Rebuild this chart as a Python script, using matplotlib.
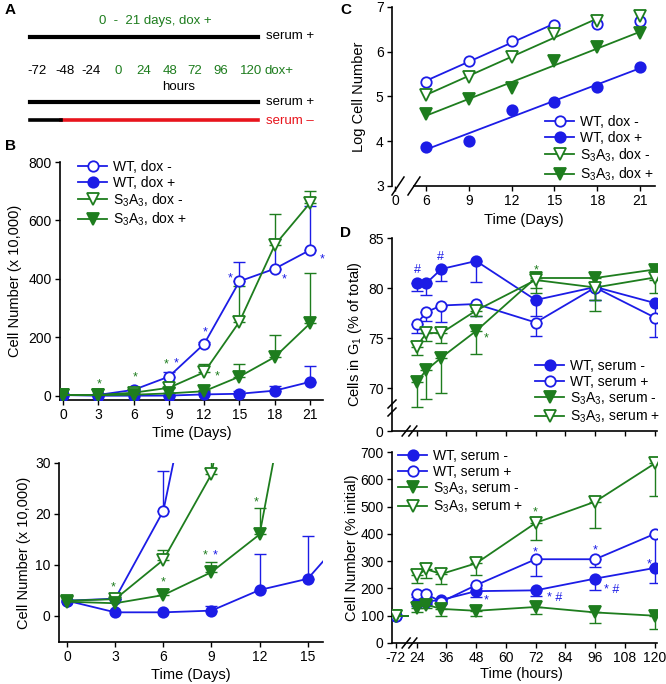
import numpy as np
import matplotlib
matplotlib.use('Agg')
import matplotlib.pyplot as plt
from matplotlib.lines import Line2D
from matplotlib.transforms import IdentityTransform

plt.rcParams['font.family'] = ['Liberation Sans', 'DejaVu Sans']
plt.rcParams['mathtext.default'] = 'regular'
plt.rcParams['font.size'] = 10

W, H = 666, 684
DPI = 100
BLUE = '#1c1ce6'
GREEN = '#1e7d1e'
RED = '#e8141c'

# ---------------- data ----------------
# Panel A (schematic)
a_hours = ['-72', '-48', '-24', '0', '24', '48', '72', '96', '120']
a_hour_green = [False, False, False, True, True, True, True, True, True]

# Panel B: cell number (x 10,000) vs days
b_days = [0, 3, 6, 9, 12, 15, 18, 21]
b_wt_dm = [3.0, 3.4, 20.6, 66, 178, 392, 435, 499]
b_wt_dm_err = [0, 0.7, 7.8, 17, 8, 66, 102, 151]
b_wt_dp = [3.0, 0.72, 0.72, 1.05, 5.1, 7.3, 18, 48]
b_wt_dp_err = [0, 0, 0, 1.0, 7.1, 8.4, 17, 54]
b_s3_dm = [3.0, 3.3, 11.0, 27.8, 81, 254, 516, 660]
b_s3_dm_err = [0, 0.8, 1.9, 4, 28, 122, 106, 42]
b_s3_dp = [2.8, 2.5, 4.1, 8.6, 16.0, 66, 133, 248]
b_s3_dp_err = [0, 0, 1.2, 1.9, 5.2, 44, 75, 173]
b_labels = ['WT, dox -', 'WT, dox +', 'S$_3$A$_3$, dox -', 'S$_3$A$_3$, dox +']
b_top_marks = [(3.1, 52, 'g', '*'), (6.1, 75, 'g', '*'), (8.75, 121, 'g', '*'),
               (9.6, 123, 'b', '*'), (12.1, 230, 'b', '*'), (13.1, 81, 'g', '*'),
               (14.25, 414, 'b', '*'), (18.8, 411, 'b', '*'), (22.0, 480, 'b', '*')]
b_bot_marks = [(2.88, 6.4, 'g', '*'), (6.0, 7.3, 'g', '*'), (8.6, 12.6, 'g', '*'),
               (9.23, 12.6, 'b', '*'), (11.76, 23.1, 'g', '*')]

# Panel C: log cell number
c_days = [6, 9, 12, 15, 18, 21]
c_wt_dm = [5.32, 5.80, 6.25, 6.59, 6.63, 6.69]
c_wt_dp = [3.88, 4.01, 4.70, 4.87, 5.21, 5.67]
c_s3_dm = [5.03, 5.44, 5.89, 6.39, 6.69, 6.80]
c_s3_dp = [4.60, 4.94, 5.20, 5.80, 6.10, 6.41]
c_fit_n = [4, 6, 5, 6]   # number of points used for each regression line

# Panel D: hours after serum change
d_hours = [24, 28, 34, 48, 72, 96, 120]
d_labels = ['WT, serum -', 'WT, serum +', 'S$_3$A$_3$, serum -', 'S$_3$A$_3$, serum +']
# % cells in G1
g1_wt_sm = [80.5, 80.5, 81.9, 82.7, 78.8, 80.1, 78.5]
g1_wt_sm_err = [0.8, 1.2, 1.2, 2.1, 1.6, 1.3, 1.4]
g1_wt_sp = [76.4, 77.6, 78.25, 78.4, 76.55, 80.05, 77.05]
g1_wt_sp_err = [0.9, 0.9, 1.65, 1.15, 1.3, 1.25, 1.95]
g1_s3_sm = [70.6, 71.8, 73.05, 75.7, 81.0, 81.0, 81.85]
g1_s3_sm_err = [2.45, 2.9, 3.5, 2.3, 1.0, 3.3, 1.0]
g1_s3_sp = [74.15, 75.5, 75.5, 77.75, 80.8, 80.05, 81.05]
g1_s3_sp_err = [0.85, 0.75, 1.0, 0.55, 1.3, 1.2, 1.5]
g1_marks = [(24.3, 81.9, 'b', '#'), (33.8, 83.2, 'b', '#'), (72.1, 82.2, 'g', '*'),
            (52.2, 75.4, 'g', '*')]
# cell number (% initial)
n_initial = 100
n_wt_sm = [148, 152, 158, 190, 193, 236, 275]
n_wt_sm_err = [12, 10, 8, 20, 22, 40, 54]
n_wt_sp = [178, 178, 151, 212, 307, 307, 400]
n_wt_sp_err = [8, 8, 8, 10, 60, 30, 120]
n_s3_sm = [128, 140, 125, 118, 132, 112, 100]
n_s3_sm_err = [15, 12, 27, 20, 25, 38, 50]
n_s3_sp = [248, 270, 253, 292, 440, 518, 658]
n_s3_sp_err = [27, 30, 38, 42, 62, 97, 118]
n_marks = [(72, 493, 'g', '*'), (72, 347, 'b', '*'), (96, 353, 'b', '*'),
           (117.9, 304, 'b', '*'), (52, 172, 'b', '*'), (79.5, 180, 'b', '* #'),
           (102.5, 210, 'b', '* #')]

# ---------------- figure ----------------
fig = plt.figure(figsize=(W / DPI, H / DPI), dpi=DPI)
COL = {'b': BLUE, 'g': GREEN}


def fx(x):
    return x / W


def fy(y):
    return 1 - y / H


def style(ax):
    for s in ['top', 'right']:
        ax.spines[s].set_visible(False)
    for s in ['left', 'bottom']:
        ax.spines[s].set_linewidth(1.2)
    ax.tick_params(direction='out', length=3.5, width=1, labelsize=10, pad=2.5)


def series(ax, x, y, err, color, marker, filled, up=True, ms=7.5):
    x = np.asarray(x, float)
    y = np.asarray(y, float)
    e = np.asarray(err, float)
    m = e > 0
    if m.any():
        z = np.zeros(m.sum())
        yerr = [z, e[m]] if up else [e[m], z]
        ax.errorbar(x[m], y[m], yerr=yerr, fmt='none', ecolor=color, elinewidth=1.0,
                    capsize=4.5, capthick=1.0, zorder=2)
    ln, = ax.plot(x, y, color=color, lw=1.3, marker=marker, ms=ms,
                  mfc=color if filled else 'white', mec=color, mew=1.3, zorder=3)
    return ln


def marks(ax, items, fs=9):
    for x, y, c, s in items:
        off = -5.0 if s.startswith('*') else -3.0
        ax.annotate(s, (x, y), xytext=(0, off), textcoords='offset points',
                    ha='center', va='baseline', color=COL[c], fontsize=fs)


def slash(ax, x, y, dx=4, dy=7, lw=1.1):
    p = ax.transData.transform((x, y))
    fig.add_artist(Line2D([p[0] - dx, p[0] + dx], [p[1] - dy, p[1] + dy],
                          transform=IdentityTransform(), color='k', lw=lw))


def legend(ax, handles, labels, left, top):
    ax.legend(handles, labels, loc='upper left', bbox_to_anchor=(fx(left), fy(top)),
              bbox_transform=fig.transFigure, frameon=False, borderaxespad=0,
              borderpad=0, handlelength=2.1, handletextpad=0.45, labelspacing=0.12,
              fontsize=10)


# ---------- Panel A ----------
fig.text(fx(5), fy(10), 'A', fontsize=11, fontweight='bold', ha='left', va='center')
fig.text(fx(155), fy(21), '0  -  21 days, dox +', color=GREEN, fontsize=9.5,
         ha='center', va='center')
fig.add_artist(Line2D([fx(30), fx(258)], [fy(37), fy(37)], color='k', lw=3,
                      transform=fig.transFigure))
fig.text(fx(266), fy(36), 'serum +', fontsize=9.5, ha='left', va='center')
a_pos = [37, 65, 91, 118, 144, 170, 195, 221, 251]
for lab, g, px in zip(a_hours, a_hour_green, a_pos):
    fig.text(fx(px), fy(71), lab, color=GREEN if g else 'k', fontsize=9.5,
             ha='center', va='center')
fig.text(fx(279), fy(71), 'dox+', color=GREEN, fontsize=9.5, ha='center', va='center')
fig.text(fx(179), fy(87), 'hours', fontsize=9.5, ha='center', va='center')
fig.add_artist(Line2D([fx(30), fx(258)], [fy(102), fy(102)], color='k', lw=3,
                      transform=fig.transFigure))
fig.text(fx(266), fy(102), 'serum +', fontsize=9.5, ha='left', va='center')
fig.add_artist(Line2D([fx(61), fx(258)], [fy(120), fy(120)], color=RED, lw=2.6,
                      transform=fig.transFigure))
fig.add_artist(Line2D([fx(30), fx(61)], [fy(120), fy(120)], color='k', lw=2.6,
                      transform=fig.transFigure))
fig.text(fx(266), fy(121), 'serum \u2013', color=RED, fontsize=9.5, ha='left', va='center')

# ---------- Panel B ----------
fig.text(fx(5), fy(146), 'B', fontsize=11, fontweight='bold', ha='left', va='center')
axB1 = fig.add_axes([fx(60), fy(400), 263 / W, 238 / H])
axB2 = fig.add_axes([fx(59), fy(642), 264 / W, 179 / H])
for ax in (axB1, axB2):
    style(ax)
    h1 = series(ax, b_days, b_wt_dm, b_wt_dm_err, BLUE, 'o', False)
    h2 = series(ax, b_days, b_wt_dp, b_wt_dp_err, BLUE, 'o', True)
    h3 = series(ax, b_days, b_s3_dm, b_s3_dm_err, GREEN, 'v', False, ms=8)
    h4 = series(ax, b_days, b_s3_dp, b_s3_dp_err, GREEN, 'v', True, ms=8)
    ax.set_ylabel('Cell Number (x 10,000)', fontsize=10.5)
    ax.set_xlabel('Time (Days)', fontsize=10.5)
axB1.set_xlim(-0.26, 22.1)
axB1.set_ylim(-14, 800)
axB1.set_xticks(b_days)
axB1.set_yticks([0, 200, 400, 600, 800])
axB1.yaxis.set_label_coords(-0.146, 0.5)
axB1.xaxis.set_label_coords(0.5, -0.109)
legend(axB1, [h1, h2, h3, h4], b_labels, 78, 160)
marks(axB1, b_top_marks)
axB2.set_xlim(-0.5, 15.95)
axB2.set_ylim(-5.1, 30)
axB2.set_xticks([0, 3, 6, 9, 12, 15])
axB2.set_yticks([0, 10, 20, 30])
axB2.yaxis.set_label_coords(-0.106, 0.5)
axB2.xaxis.set_label_coords(0.5, -0.145)
marks(axB2, b_bot_marks)

# ---------- Panel C ----------
fig.text(fx(340), fy(10), 'C', fontsize=11, fontweight='bold', ha='left', va='center')
axC = fig.add_axes([fx(392), fy(186), 263 / W, 179 / H])
style(axC)
C_ZERO = 3.83
axC.set_xlim(3.62, 22.05)
axC.set_ylim(3, 7)
hc = []
for ys, col, filled, mk, n in zip([c_wt_dm, c_wt_dp, c_s3_dm, c_s3_dp],
                                  [BLUE, BLUE, GREEN, GREEN],
                                  [False, True, False, True],
                                  ['o', 'o', 'v', 'v'], c_fit_n):
    xs = np.array(c_days[:n], float)
    coef = np.polyfit(xs, np.array(ys[:n], float), 1)
    axC.plot([xs[0], xs[-1]], np.polyval(coef, [xs[0], xs[-1]]), color=col, lw=1.3,
             zorder=2)
    axC.plot(c_days, ys, ls='none', marker=mk, ms=7.5 if mk == 'o' else 8,
             mfc=col if filled else 'white', mec=col, mew=1.3, zorder=3)
    hc.append(Line2D([], [], color=col, lw=1.3, marker=mk, ms=7.5 if mk == 'o' else 8,
                     mfc=col if filled else 'white', mec=col, mew=1.3))
axC.set_xticks([C_ZERO] + c_days)
axC.set_xticklabels(['0'] + [str(d) for d in c_days])
axC.set_yticks([3, 4, 5, 6, 7])
axC.spines['bottom'].set_bounds(5.16, 22.05)
axC.set_ylabel('Log Cell Number', fontsize=10.5)
axC.set_xlabel('Time (Days)', fontsize=10.5)
axC.yaxis.set_label_coords(-0.099, 0.5)
axC.xaxis.set_label_coords(0.5, -0.151)
slash(axC, 4.04, 3, dx=6, dy=9)
slash(axC, 5.16, 3, dx=6, dy=9)
legend(axC, hc, b_labels, 545, 115)

# ---------- Panel D ----------
fig.text(fx(340), fy(233), 'D', fontsize=11, fontweight='bold', ha='left', va='center')
axD1 = fig.add_axes([fx(392), fy(431), 265 / W, 193 / H])
axD2 = fig.add_axes([fx(392), fy(643), 265 / W, 191 / H])
D_M72 = 15.7
D_STUB = 20.5
for ax in (axD1, axD2):
    style(ax)
    ax.set_xlim(14.1, 120.9)

hd = [series(axD1, d_hours, g1_wt_sm, g1_wt_sm_err, BLUE, 'o', True, up=False),
      series(axD1, d_hours, g1_wt_sp, g1_wt_sp_err, BLUE, 'o', False, up=False),
      series(axD1, d_hours, g1_s3_sm, g1_s3_sm_err, GREEN, 'v', True, up=False, ms=8),
      series(axD1, d_hours, g1_s3_sp, g1_s3_sp_err, GREEN, 'v', False, up=False, ms=8)]
D1_ZERO = 65.7
axD1.set_ylim(D1_ZERO, 85)
axD1.set_yticks([D1_ZERO, 70, 75, 80, 85])
axD1.set_yticklabels(['0', '70', '75', '80', '85'])
axD1.set_xticks([24, 36, 48, 60, 72, 84, 96, 108, 120])
axD1.set_xticklabels([])
axD1.set_ylabel('Cells in G$_1$ (% of total)', fontsize=10.5)
axD1.yaxis.set_label_coords(-0.106, 0.5)
marks(axD1, g1_marks)
legend(axD1, hd, d_labels, 535, 359)
slash(axD1, 14.1, 67.6, dx=4, dy=4)
slash(axD1, 14.1, 68.4, dx=4, dy=4)
slash(axD1, 19.8, D1_ZERO, dx=4, dy=5)
slash(axD1, 22.5, D1_ZERO, dx=4, dy=5)

for ys, es, col, mk, filled in [(n_wt_sm, n_wt_sm_err, BLUE, 'o', True),
                                (n_wt_sp, n_wt_sp_err, BLUE, 'o', False),
                                (n_s3_sm, n_s3_sm_err, GREEN, 'v', True),
                                (n_s3_sp, n_s3_sp_err, GREEN, 'v', False)]:
    series(axD2, d_hours, ys, es, col, mk, filled, up=False, ms=7.5 if mk == 'o' else 8)
    axD2.plot([D_M72, D_STUB], [n_initial, n_initial], color=col, lw=1.3, marker=mk,
              markevery=[0], ms=7.5 if mk == 'o' else 8,
              mfc=col if filled else 'white', mec=col, mew=1.3, zorder=3)
axD2.set_ylim(0, 700)
axD2.set_yticks(range(0, 701, 100))
axD2.set_xticks([D_M72, 24, 36, 48, 60, 72, 84, 96, 108, 120])
axD2.set_xticklabels(['-72', '24', '36', '48', '60', '72', '84', '96', '108', '120'])
axD2.set_ylabel('Cell Number (% initial)', fontsize=10.5)
axD2.set_xlabel('Time (hours)', fontsize=10.5)
axD2.yaxis.set_label_coords(-0.125, 0.5)
axD2.xaxis.set_label_coords(0.487, -0.124)
marks(axD2, n_marks)
legend(axD2, hd, d_labels, 398, 449)
slash(axD2, 19.8, 0, dx=4, dy=5)
slash(axD2, 22.5, 0, dx=4, dy=5)

fig.savefig('out.png', dpi=DPI)
